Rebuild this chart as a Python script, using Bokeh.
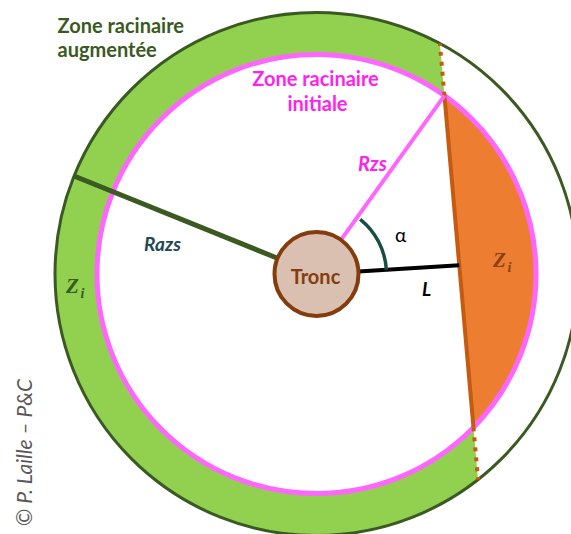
import numpy as np
from bokeh.plotting import figure
from bokeh.models import Range1d
from bokeh.core.properties import value
from bokeh.embed import file_html
from bokeh.resources import INLINE

# ---- diagram values (reference pixel space, y measured from top) ----
W, H = 571, 534
center_px = [316.0, 273.5]
r_tronc = 42.0          # trunk radius
r_zs = 219.5            # initial root zone radius (Rzs)
r_azs = 261.5           # augmented root zone radius (Razs)
L_dist = 143.0          # distance trunk -> chord (L)
chord_normal_deg = 5.0  # orientation of the chord normal
L_line_deg = 3.5        # drawn L segment orientation
razs_deg = 158.0        # Razs radius orientation
alpha_r = 70.0          # radius of alpha arc

cx, cy = center_px[0], H - center_px[1]

phi = np.deg2rad(chord_normal_deg)
n = np.array([np.cos(phi), np.sin(phi)])
t = np.array([-np.sin(phi), np.cos(phi)])
c = np.array([cx, cy])

def chord_pts(R):
    h = np.sqrt(R**2 - L_dist**2)
    top = c + L_dist * n + h * t
    bot = c + L_dist * n - h * t
    return top, bot

in_top, in_bot = chord_pts(r_zs)
out_top, out_bot = chord_pts(r_azs)

def ang(pt):
    return np.arctan2(pt[1] - cy, pt[0] - cx)

a_in_top, a_in_bot = ang(in_top), ang(in_bot) + 2 * np.pi
a_out_top, a_out_bot = ang(out_top), ang(out_bot) + 2 * np.pi

p = figure(width=W, height=H, x_range=Range1d(0, W), y_range=Range1d(0, H),
           output_backend="svg", toolbar_location=None, min_border=0)
p.axis.visible = False
p.grid.visible = False
p.outline_line_color = None
p.background_fill_color = "white"

# green annulus (left of chord)
ao = np.linspace(a_out_top, a_out_bot, 300)
ai = np.linspace(a_in_bot, a_in_top, 300)
gx = np.concatenate([cx + r_azs * np.cos(ao), cx + r_zs * np.cos(ai)])
gy = np.concatenate([cy + r_azs * np.sin(ao), cy + r_zs * np.sin(ai)])
p.patch(gx, gy, fill_color="#92d050", line_color=None)

# orange segment (right of chord)
aseg = np.linspace(ang(in_bot), a_in_top, 200)
p.patch(cx + r_zs * np.cos(aseg), cy + r_zs * np.sin(aseg), fill_color="#ed7d31", line_color=None)

# outer circle
p.circle(x=[cx], y=[cy], radius=r_azs, fill_color=None, line_color="#3a5a22", line_width=3)
# pink circle
p.circle(x=[cx], y=[cy], radius=r_zs, fill_color=None, line_color="#ff66ff", line_width=5)

# chord and dotted extensions
p.line([in_top[0], in_bot[0]], [in_top[1], in_bot[1]], line_color="#c55a11", line_width=4)
p.line([in_top[0], out_top[0]], [in_top[1], out_top[1]], line_color="#c55a11", line_width=4, line_dash="4 6")
p.line([in_bot[0], out_bot[0]], [in_bot[1], out_bot[1]], line_color="#c55a11", line_width=4, line_dash="4 6")

# Rzs radius
a_rzs = ang(in_top)
p.line([cx + r_tronc * np.cos(a_rzs), in_top[0]], [cy + r_tronc * np.sin(a_rzs), in_top[1]],
       line_color="#ff66ff", line_width=4)
# Razs radius
ar = np.deg2rad(razs_deg)
p.line([cx + r_tronc * np.cos(ar), cx + r_azs * np.cos(ar)],
       [cy + r_tronc * np.sin(ar), cy + r_azs * np.sin(ar)], line_color="#3a5a22", line_width=5)
# L segment
al = np.deg2rad(L_line_deg)
dL = L_dist / np.cos(phi - al)
p.line([cx + r_tronc * np.cos(al), cx + dL * np.cos(al)],
       [cy + r_tronc * np.sin(al), cy + dL * np.sin(al)], line_color="black", line_width=4)
# alpha arc
p.arc(x=[cx], y=[cy], radius=alpha_r, start_angle=al, end_angle=a_rzs - np.deg2rad(3),
      line_color="#1a4d48", line_width=3.5)

# trunk
p.circle(x=[cx], y=[cy], radius=r_tronc, fill_color="#d9c0b0", line_color="#843c0c", line_width=4)

F = value("Lato")
def txt(x, y, s, size, color, style="bold", align="center", font=F, angle=0):
    p.text(x=[x], y=[H - y], text=[s], text_font=font, text_font_size=f"{size}px",
           text_font_style=style, text_color=color, text_align=align, text_baseline="middle",
           angle=angle)

txt(57, 24, "Zone racinaire", 20, "#3a5a22", align="left")
txt(57, 48, "augmentée", 20, "#3a5a22", align="left")
txt(315, 77, "Zone racinaire", 20, "#ff22ee")
txt(317, 102, "initiale", 20, "#ff22ee")
txt(372, 162, "Rzs", 20, "#ff22ee", style="bold italic")
txt(162, 243, "Razs", 19, "#1f4a55", style="bold italic")
txt(426, 288, "L", 19, "black", style="bold italic")
txt(400, 234, "α", 19, "black", style="normal")
txt(315, 275, "Tronc", 20, "#843c0c")
S = value("Liberation Serif")
txt(72, 285, "Z", 21, "#3a5a22", style="bold italic", font=S)
txt(82, 293, "i", 14, "#3a5a22", style="bold italic", font=S)
txt(499, 259, "Z", 21, "#8a420f", style="bold italic", font=S)
txt(509, 267, "i", 14, "#8a420f", style="bold italic", font=S)
txt(23, 452, "© P. Laille – P&C", 21, "#595959", style="italic", angle=np.pi / 2)

open("out.html", "w").write(file_html(p, INLINE))
